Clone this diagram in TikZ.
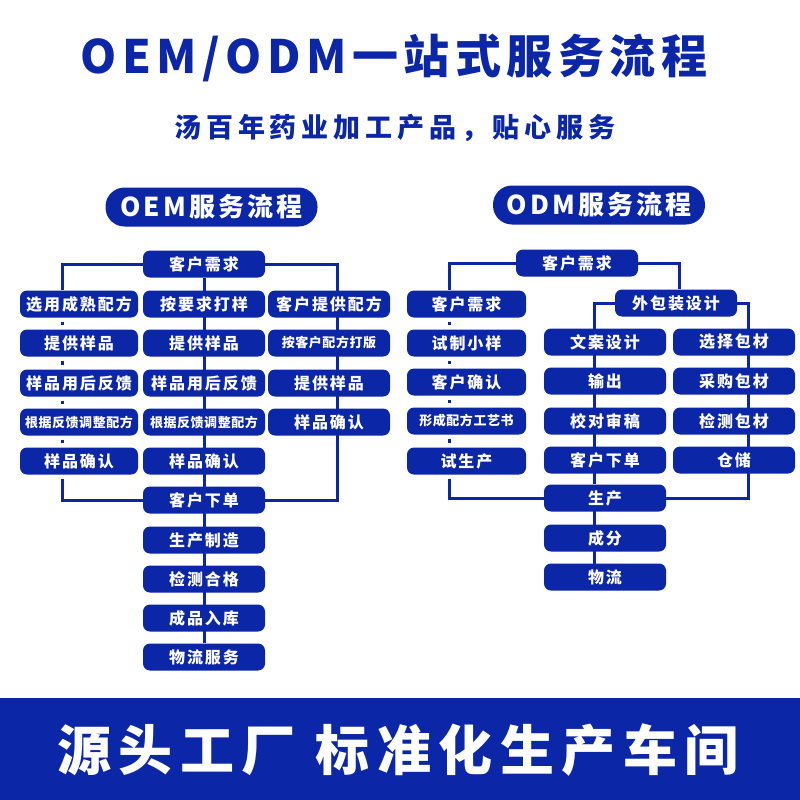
\documentclass[tikz,border=0pt]{standalone}
\usepackage{fontspec}
\usepackage{tikz}
\usetikzlibrary{backgrounds}
\setmainfont{Noto Sans CJK SC}
\newfontfamily\boxfam{Noto Sans CJK SC Black}[LetterSpace=12]
\newfontfamily\smallfam{Noto Sans CJK SC Black}[LetterSpace=4]
\newfontfamily\subfam{Noto Sans CJK SC Black}[LetterSpace=18]
\newfontfamily\titlefam{Noto Sans CJK SC Black}[LetterSpace=12]
\newfontfamily\bannerfam{Noto Sans CJK SC Black}[LetterSpace=14]
\definecolor{flowblue}{RGB}{12,38,168}

\begin{document}
\begin{tikzpicture}[x=1pt, y=-1pt,
  stepbox/.style={fill=flowblue, rectangle, rounded corners=7pt, minimum width=122pt, minimum height=27pt, inner sep=0pt, text=white, font=\boxfam\fontsize{16}{16}\selectfont},
  smallbox/.style={stepbox, font=\smallfam\fontsize{13}{13}\selectfont},
  pill/.style={fill=flowblue, rounded corners=19pt, minimum width=212pt, minimum height=39pt, inner sep=0pt, text=white, font=\boxfam\fontsize{26}{26}\selectfont},
  link/.style={draw=flowblue, line width=3pt},
  gaplink/.style={link, shorten <=4pt, shorten >=4pt}]
\useasboundingbox (0,0) rectangle (800,800);

% headings
\node[text=flowblue, font=\titlefam\fontsize{46}{46}\selectfont] (T1) at (394,58) {OEM/ODM一站式服务流程};
\node[text=flowblue, font=\subfam\fontsize{27}{27}\selectfont] (T2) at (395,128) {汤百年药业加工产品，贴心服务};
\node[pill] (H1) at (211.5,207) {OEM服务流程};
\node[pill] (H2) at (599,205) {ODM服务流程};

% OEM
\node[stepbox] (A0) at (204,264) {客户需求};
\node[stepbox, minimum width=118pt] (A1) at (79,304) {选用成熟配方};
\node[stepbox, minimum width=118pt] (A2) at (79,343) {提供样品};
\node[stepbox, minimum width=118pt] (A3) at (79,383) {样品用后反馈};
\node[smallbox, minimum width=118pt] (A4) at (79,422) {根据反馈调整配方};
\node[stepbox, minimum width=118pt] (A5) at (79,461) {样品确认};
\node[stepbox] (B1) at (204,304) {按要求打样};
\node[stepbox] (B2) at (204,343) {提供样品};
\node[stepbox] (B3) at (204,383) {样品用后反馈};
\node[smallbox] (B4) at (204,422) {根据反馈调整配方};
\node[stepbox] (B5) at (204,461) {样品确认};
\node[stepbox] (B6) at (204,500) {客户下单};
\node[stepbox] (B7) at (204,540) {生产制造};
\node[stepbox] (B8) at (204,579) {检测合格};
\node[stepbox] (B9) at (204,618) {成品入库};
\node[stepbox] (B10) at (204,657) {物流服务};
\node[stepbox] (C1) at (329,304) {客户提供配方};
\node[smallbox] (C2) at (329,343) {按客户配方打版};
\node[stepbox] (C3) at (329,383) {提供样品};
\node[stepbox] (C4) at (329,422) {样品确认};

% ODM
\node[stepbox] (D0) at (577,263) {客户需求};
\node[stepbox, minimum width=119pt] (D1) at (466.5,304) {客户需求};
\node[stepbox, minimum width=119pt] (D2) at (466.5,343) {试制小样};
\node[stepbox, minimum width=119pt] (D3) at (466.5,382) {客户确认};
\node[smallbox, minimum width=119pt] (D4) at (466.5,421) {形成配方工艺书};
\node[stepbox, minimum width=119pt] (D5) at (466.5,461) {试生产};
\node[stepbox] (E0) at (676,303) {外包装设计};
\node[stepbox] (E1) at (605,342) {文案设计};
\node[stepbox] (E2) at (605,381) {输出};
\node[stepbox] (E3) at (605,421) {校对审稿};
\node[stepbox] (E4) at (605,460) {客户下单};
\node[stepbox] (F1) at (734,342) {选择包材};
\node[stepbox] (F2) at (734,381) {采购包材};
\node[stepbox] (F3) at (734,421) {检测包材};
\node[stepbox] (F4) at (734,460) {仓储};
\node[stepbox] (G1) at (605,498) {生产};
\node[stepbox] (G2) at (605,538) {成分};
\node[stepbox] (G3) at (605,577) {物流};

\coordinate (a0) at (62,264);
\coordinate (c0) at (337,264);
\coordinate (d0) at (449,263);
\coordinate (f0) at (679,263);
\coordinate (e1) at (594,303);
\coordinate (e2) at (748,303);

\begin{scope}[on background layer]
\draw[link] (A0.west) -- (a0) -- (a0 |- A1.north);
\foreach \u/\v in {A1/A2,A2/A3,A3/A4,A4/A5}
  \draw[gaplink] (a0 |- \u.south) -- (a0 |- \v.north);
\draw[link, shorten <=4pt] (a0 |- A5.south) -- (a0 |- B6) -- (B6.west);
\draw[link] (A0) -- (B10);
\draw[link] (A0.east) -- (c0) -- (c0 |- B6) -- (B6.east);

\draw[link] (D0.west) -- (d0) -- (d0 |- D1.north);
\foreach \u/\v in {D1/D2,D2/D3,D3/D4,D4/D5}
  \draw[gaplink] (d0 |- \u.south) -- (d0 |- \v.north);
\draw[link, shorten <=4pt] (d0 |- D5.south) -- (d0 |- G1) -- (G1.west);
\draw[link] (D0.east) -- (f0) -- (f0 |- E0.north);
\draw[link] (E0.west) -- (e1) -- (e1 |- G1.north);
\draw[link] (E0.east) -- (e2) -- (e2 |- G1) -- (G1.east);
\draw[link] (e1 |- G1) -- (e1 |- G3);
\end{scope}

% banner
\fill[flowblue] (0,698) rectangle (800,800);
\node[text=white, font=\bannerfam\fontsize{54}{54}\selectfont] (T3) at (398,750) {源头工厂 标准化生产车间};
\end{tikzpicture}
\end{document}
